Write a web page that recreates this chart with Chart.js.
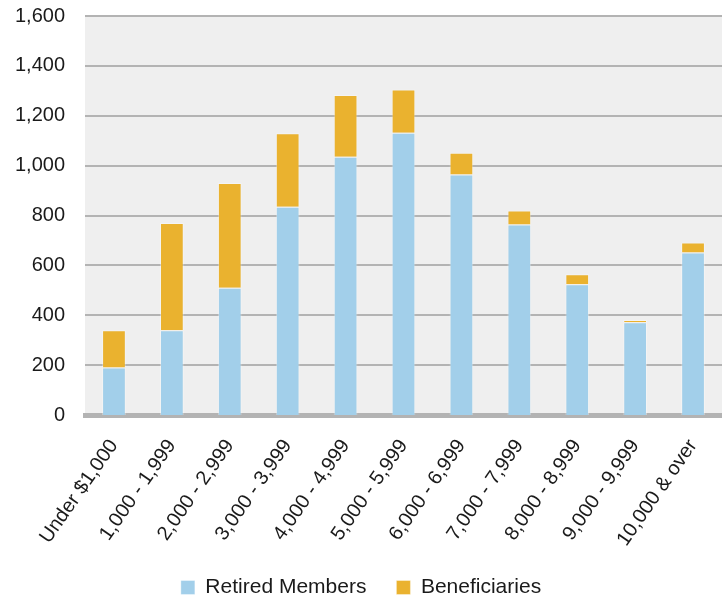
<!DOCTYPE html>
<html>
<head>
<meta charset="utf-8">
<script src="https://cdn.jsdelivr.net/npm/chart.js@4/dist/chart.umd.min.js"></script>
<style>
  html, body { margin: 0; padding: 0; background: #fff; }
  #wrap { width: 722px; height: 597px; position: relative; }
</style>
</head>
<body>
<div id="wrap"><canvas id="chart"></canvas></div>
<script>
const categories = [
  "Under $1,000", "1,000 - 1,999", "2,000 - 2,999", "3,000 - 3,999",
  "4,000 - 4,999", "5,000 - 5,999", "6,000 - 6,999", "7,000 - 7,999",
  "8,000 - 8,999", "9,000 - 9,999", "10,000 & over",
];
const retiredMembers = [190, 340, 510, 835, 1036, 1132, 964, 764, 524, 372, 652];
const beneficiaries = [150, 430, 420, 295, 247, 173, 88, 56, 40, 9, 40];
const yTicks = [0, 200, 400, 600, 800, 1000, 1200, 1400, 1600];

const FONT = "'Liberation Sans', Arial, sans-serif";
const fmt = (v) => v.toLocaleString("en-US");

// grey panel behind the plot
const plotBg = {
  id: "plotBg",
  beforeDraw(chart) {
    const { ctx, chartArea: a } = chart;
    ctx.save();
    ctx.fillStyle = "#efefef";
    ctx.fillRect(a.left, a.top, a.right - a.left, a.bottom - a.top);
    ctx.restore();
  },
};

new Chart(document.getElementById("chart"), {
  type: "bar",
  data: {
    labels: categories,
    datasets: [
      {
        label: "Retired Members",
        data: retiredMembers,
        backgroundColor: "#a2cfea",
        borderColor: "rgba(255,255,255,0.35)",
        borderWidth: 1,
      },
      {
        label: "Beneficiaries",
        data: beneficiaries,
        backgroundColor: "#eab22f",
        borderColor: "rgba(255,255,255,0.35)",
        borderWidth: 1,
      },
    ],
  },
  options: {
    responsive: true,
    maintainAspectRatio: false,
    animation: false,
    layout: { padding: { top: 16, right: 0, left: 0, bottom: -11 } },
    datasets: { bar: { categoryPercentage: 1, barPercentage: 0.41 } },
    scales: {
      x: {
        stacked: true,
        afterFit: (s) => { s.height = 132; s.paddingLeft = 0; s.paddingRight = 0; },
        grid: { display: false, drawTicks: false },
        border: { color: "#b3b3b3", width: 5 },
        ticks: {
          color: "#1a1a1a",
          font: { family: FONT, size: 20 },
          minRotation: 55,
          maxRotation: 55,
          padding: 20,
          autoSkip: false,
        },
      },
      y: {
        stacked: true,
        min: 0,
        max: 1600,
        afterBuildTicks: (s) => { s.ticks = yTicks.map((v) => ({ value: v })); },
        afterFit: (s) => { s.width = 85; s.paddingTop = 0; s.paddingBottom = 0; },
        grid: {
          color: "#b3b3b3",
          lineWidth: (c) => (c.tick && c.tick.value === 0 ? 0 : 2),
          drawTicks: false,
        },
        border: { display: false },
        ticks: {
          color: "#1a1a1a",
          font: { family: FONT, size: 20 },
          padding: 20,
          callback: (v) => fmt(v),
        },
      },
    },
    plugins: {
      legend: {
        position: "bottom",
        labels: {
          color: "#1a1a1a",
          font: { family: FONT, size: 21 },
          boxWidth: 14,
          boxHeight: 14,
          padding: 30,
        },
      },
      tooltip: { enabled: false },
    },
  },
  plugins: [plotBg],
});
</script>
</body>
</html>
